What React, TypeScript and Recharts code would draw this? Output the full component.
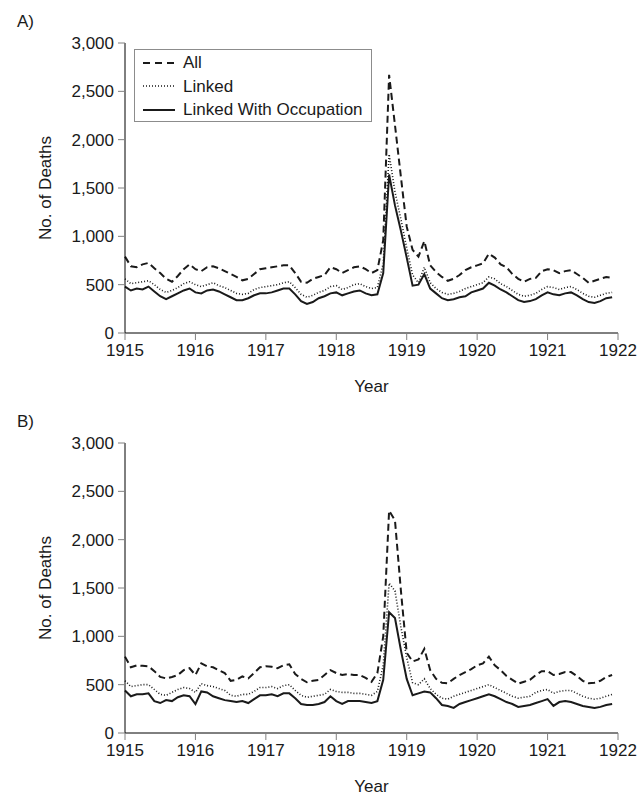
import { LineChart, Line, XAxis, YAxis, Legend } from 'recharts'

// monthly deaths, Jan 1915 .. Dec 1921
const allA = [
  790, 690, 680, 710, 725, 670, 620, 560, 530, 590, 660, 710,
  660, 640, 680, 690, 670, 640, 610, 580, 545, 560, 610, 660,
  670, 680, 690, 700, 700, 620, 530, 520, 560, 580, 600, 680,
  660, 620, 650, 680, 690, 660, 620, 650, 960, 2670, 2150, 1620,
  1100, 860, 790, 950, 700, 630, 580, 540, 560, 600, 650, 680,
  700, 720, 820, 780, 710, 680, 610, 560, 530, 560, 570, 640,
  660, 650, 620, 640, 650, 610, 570, 520, 540, 560, 580, 570,
]
const linkA = [
  560, 510, 520, 530, 540, 500, 450, 420, 440, 470, 510, 530,
  500, 480, 500, 520, 490, 470, 440, 410, 400, 410, 450, 470,
  480, 490, 500, 520, 530, 470, 400, 370, 390, 420, 440, 480,
  490, 450, 470, 500, 510, 480, 460, 470, 720, 1850, 1460, 1180,
  880, 600, 520, 680, 520, 460, 420, 400, 410, 430, 460, 480,
  500, 520, 580, 560, 510, 480, 440, 400, 380, 390, 410, 450,
  480, 470, 450, 470, 480, 450, 410, 380, 370, 390, 410, 420,
]
const occA = [
  480, 440, 460, 450, 480, 430, 380, 350, 380, 410, 440, 460,
  420, 410, 440, 450, 430, 400, 370, 340, 340, 360, 390, 410,
  410, 420, 440, 460, 460, 400, 330, 300, 320, 360, 380, 410,
  420, 390, 410, 430, 440, 410, 390, 400, 620, 1640, 1320, 1060,
  780, 490, 500, 610, 460, 410, 360, 340, 350, 370, 380, 420,
  440, 460, 520, 490, 450, 420, 380, 340, 320, 330, 350, 390,
  420, 400, 390, 410, 420, 390, 350, 320, 310, 330, 360, 370,
]
const allB = [
  790, 680, 700, 695, 690, 640, 580, 565, 580, 600, 650, 670,
  600, 720, 690, 680, 650, 620, 540, 550, 585, 565, 620, 680,
  690, 685, 670, 700, 710, 610, 560, 525, 540, 550, 600, 650,
  620, 600, 610, 600, 600, 570, 530, 620, 1000, 2300, 2200, 1480,
  830, 740, 760, 870, 650, 560, 520, 515, 560, 600, 630, 660,
  700, 720, 790, 700, 650, 590, 550, 510, 530, 550, 600, 640,
  640, 600, 610, 630, 630, 590, 540, 515, 520, 540, 580, 600,
]
const linkB = [
  540, 480, 490, 500, 500, 450, 400, 390, 420, 450, 470, 460,
  420, 510, 490, 480, 460, 440, 390, 380, 400, 400, 430, 470,
  470, 480, 460, 490, 500, 440, 390, 370, 380, 390, 400, 450,
  430, 420, 420, 410, 410, 400, 390, 430, 700, 1550, 1470, 1100,
  780, 520, 500, 560, 460, 400, 360, 350, 380, 400, 420, 440,
  460, 480, 500, 470, 440, 410, 380, 360, 370, 380, 420, 440,
  450, 410, 430, 440, 440, 410, 380, 360, 350, 360, 380, 400,
]
const occB = [
  440, 380, 400, 400, 410, 330, 310, 340, 330, 370, 390, 380,
  300, 430, 420, 380, 360, 340, 330, 320, 330, 310, 350, 390,
  390, 400, 380, 410, 410, 360, 300, 290, 290, 300, 320, 380,
  330, 300, 330, 330, 330, 320, 310, 330, 550, 1250, 1190, 860,
  560, 390, 410, 430, 420, 360, 290, 280, 260, 300, 320, 340,
  360, 380, 400, 380, 350, 320, 300, 270, 280, 290, 310, 330,
  350, 280, 320, 330, 320, 300, 280, 270, 260, 270, 290, 300,
]

const yearTicks = [1915, 1916, 1917, 1918, 1919, 1920, 1921, 1922]
const deathTicks = [0, 500, 1000, 1500, 2000, 2500, 3000]
const seriesNames = ['All', 'Linked', 'Linked With Occupation']

const FONT = '"Liberation Sans", Arial, sans-serif'
const INK = '#1a1a1a'

const styles = [
  { key: 'all', dash: '7 4', width: 2 },
  { key: 'linked', dash: '1 2', width: 1.6 },
  { key: 'occ', dash: undefined, width: 2 },
]

function LegendBox() {
  return (
    <div style={{ border: '1px solid #8c8c8c', background: '#fff', width: 238, height: 73, boxSizing: 'border-box', padding: '1px 0 0 8px' }}>
      {seriesNames.map((name, i) => (
        <div key={name} style={{ display: 'flex', alignItems: 'center', height: 23.5 }}>
          <svg width={32} height={8}>
            <line x1={0} x2={32} y1={4} y2={4} stroke={INK} strokeWidth={styles[i].width} strokeDasharray={i === 0 ? '7 5' : styles[i].dash} />
          </svg>
          <span style={{ marginLeft: 8, fontSize: 17, color: INK, lineHeight: 1 }}>{name}</span>
        </div>
      ))}
    </div>
  )
}

function DeathsLabel({ viewBox }: any) {
  const cy = viewBox.y + viewBox.height / 2
  return (
    <text x={45} y={cy} transform={`rotate(-90 45 ${cy})`} textAnchor="middle" dominantBaseline="central" fontSize={17} fill={INK}>
      No. of Deaths
    </text>
  )
}

type PanelProps = { tag: string; all: number[]; linked: number[]; occ: number[]; legend?: boolean }

function Panel({ tag, all, linked, occ, legend }: PanelProps) {
  const data = all.map((v, i) => ({ t: 1915 + i / 12, all: v, linked: linked[i], occ: occ[i] }))
  return (
    <div style={{ position: 'relative', width: 643, height: 400 }}>
      <div style={{ position: 'absolute', left: 17, top: 12, fontSize: 17, color: INK }}>{tag}</div>
      <LineChart width={643} height={400} data={data} margin={{ top: 43, right: 25, bottom: 0, left: 0 }}>
        <XAxis
          dataKey="t"
          type="number"
          domain={[1915, 1922]}
          ticks={yearTicks}
          interval={0}
          height={67}
          tickSize={7}
          tickMargin={4}
          tick={{ fill: INK, fontSize: 17 }}
          axisLine={{ stroke: '#000' }}
          tickLine={{ stroke: '#808080' }}
          label={{ value: 'Year', position: 'insideBottom', offset: 8, fill: INK, fontSize: 17 }}
        />
        <YAxis
          type="number"
          domain={[0, 3000]}
          ticks={deathTicks}
          width={125}
          tickSize={7}
          tickMargin={4}
          tick={{ fill: INK, fontSize: 17 }}
          tickFormatter={(v: number) => v.toLocaleString('en-US')}
          axisLine={{ stroke: '#000' }}
          tickLine={{ stroke: '#808080' }}
          label={{ content: (p: any) => <DeathsLabel viewBox={p.viewBox} /> }}
        />
        {legend && (
          <Legend
            layout="vertical"
            align="center"
            verticalAlign="middle"
            wrapperStyle={{ left: 134, top: 49, width: 238 }}
            content={() => <LegendBox />}
          />
        )}
        {styles.map((s) => (
          <Line
            key={s.key}
            dataKey={s.key}
            type="linear"
            stroke={INK}
            strokeWidth={s.width}
            strokeDasharray={s.dash}
            dot={false}
            activeDot={false}
            isAnimationActive={false}
          />
        ))}
      </LineChart>
    </div>
  )
}

export default function App() {
  return (
    <div style={{ position: 'absolute', left: 0, top: 0, width: 643, height: 801, background: '#fff', fontFamily: FONT }}>
      <Panel tag="A)" all={allA} linked={linkA} occ={occA} legend />
      <Panel tag="B)" all={allB} linked={linkB} occ={occB} />
    </div>
  )
}
